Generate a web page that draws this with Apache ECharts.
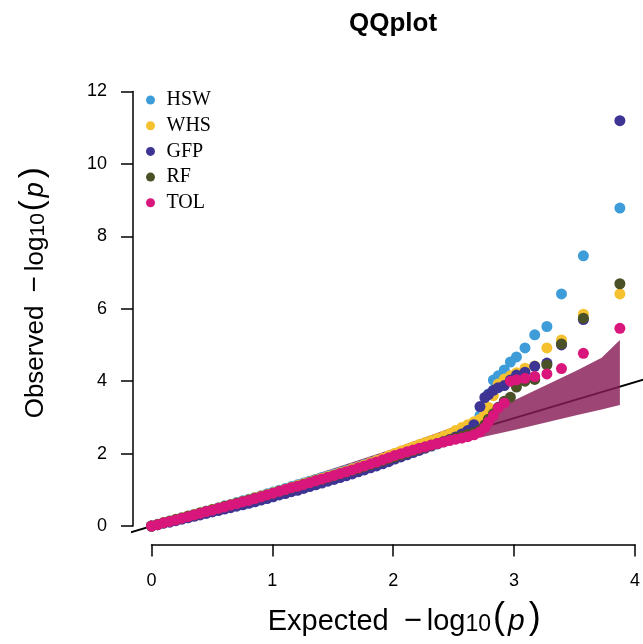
<!DOCTYPE html>
<html><head><meta charset="utf-8">
<script src="https://cdn.jsdelivr.net/npm/echarts@6/dist/echarts.min.js"></script>
<style>html,body{margin:0;padding:0;background:#fff}#c{width:643px;height:644px}</style>
</head><body><div id="c"></div>
<script>
// Expected -log10(p) (shared x for all traits)
const expected = [0.00,0.05,0.10,0.15,0.20,0.25,0.30,0.35,0.40,0.45,0.50,0.55,0.60,0.65,0.70,0.75,0.80,0.85,0.90,0.95,
  1.00,1.05,1.10,1.15,1.20,1.25,1.30,1.35,1.40,1.45,1.50,1.55,1.60,1.65,1.70,1.75,1.80,1.85,1.90,1.95,
  2.00,2.05,2.10,2.15,2.20,2.25,2.30,2.35,2.40,2.45,2.50,2.55,2.60,2.65,
  2.70,2.74,2.77,2.81,2.85,2.90,2.95,3.00,3.07,3.15,3.25,3.37,3.55,3.85];
// Observed -log10(p) per trait
const hsw = [0.00,0.05,0.10,0.15,0.19,0.24,0.28,0.33,0.37,0.42,0.46,0.51,0.56,0.60,0.65,0.70,0.74,0.79,0.84,0.89,
  0.94,0.99,1.04,1.09,1.14,1.19,1.24,1.29,1.34,1.39,1.44,1.49,1.54,1.59,1.64,1.70,1.75,1.81,1.86,1.92,
  1.98,2.04,2.10,2.15,2.20,2.25,2.30,2.35,2.40,2.45,2.51,2.58,2.68,2.85,
  3.05,3.31,3.65,4.03,4.15,4.31,4.53,4.67,4.92,5.28,5.51,6.41,7.46,8.78];
const whs = [0.00,0.05,0.10,0.14,0.19,0.23,0.28,0.32,0.37,0.41,0.46,0.50,0.55,0.59,0.64,0.68,0.73,0.78,0.83,0.87,
  0.92,0.97,1.02,1.07,1.12,1.17,1.22,1.27,1.32,1.37,1.42,1.47,1.52,1.58,1.63,1.69,1.75,1.81,1.87,1.94,
  2.01,2.07,2.13,2.19,2.25,2.31,2.36,2.42,2.48,2.55,2.64,2.72,2.80,2.88,
  2.95,3.10,3.28,3.60,3.92,4.06,4.15,4.23,4.36,4.42,4.92,5.14,5.85,6.41];
const gfp = [0.00,0.04,0.08,0.11,0.15,0.19,0.23,0.27,0.31,0.35,0.39,0.43,0.47,0.51,0.55,0.59,0.63,0.67,0.72,0.76,
  0.81,0.86,0.90,0.95,0.99,1.04,1.09,1.14,1.19,1.24,1.29,1.34,1.39,1.44,1.50,1.55,1.61,1.66,1.72,1.78,
  1.85,1.91,1.97,2.03,2.09,2.15,2.21,2.27,2.33,2.39,2.46,2.54,2.64,2.80,
  3.30,3.55,3.63,3.75,3.82,3.88,4.03,4.17,4.25,4.41,4.50,5.00,5.70,11.19];
const rf = [0.00,0.04,0.09,0.13,0.18,0.22,0.27,0.31,0.36,0.40,0.45,0.49,0.54,0.58,0.63,0.67,0.72,0.77,0.81,0.86,
  0.91,0.96,1.00,1.05,1.10,1.15,1.20,1.25,1.29,1.34,1.39,1.44,1.49,1.54,1.59,1.64,1.70,1.75,1.80,1.86,
  1.91,1.97,2.02,2.08,2.13,2.18,2.23,2.28,2.33,2.38,2.43,2.48,2.53,2.58,
  2.65,2.80,2.95,3.10,3.28,3.45,3.56,3.84,4.00,4.05,4.45,5.03,5.74,6.69];
const tol = [0.00,0.04,0.09,0.13,0.17,0.22,0.26,0.31,0.35,0.40,0.44,0.49,0.53,0.58,0.62,0.67,0.71,0.76,0.81,0.86,
  0.91,0.96,1.01,1.06,1.10,1.15,1.20,1.25,1.30,1.35,1.40,1.45,1.50,1.55,1.61,1.66,1.72,1.77,1.83,1.89,
  1.95,2.00,2.05,2.10,2.15,2.19,2.24,2.28,2.32,2.36,2.40,2.43,2.47,2.52,
  2.60,2.72,2.88,3.05,3.26,3.40,4.00,4.04,4.08,4.13,4.20,4.35,4.77,5.46];
// Confidence band
const bandX     = [0.00,0.50,1.00,1.50,2.00,2.25,2.50,2.75,3.00,3.25,3.50,3.70,3.85];
const bandUpper = [0.01,0.53,1.06,1.60,2.15,2.45,2.76,3.12,3.50,3.90,4.30,4.65,5.14];
const bandLower = [0.00,0.48,0.95,1.42,1.88,2.10,2.30,2.48,2.67,2.87,3.07,3.22,3.34];
const refLine = [-0.5, 4.5];
const traitNames = ['HSW','WHS','GFP','RF','TOL'];
const traitValues = [hsw, whs, gfp, rf, tol];
const traitColors = ['#3e9dd9','#f5c12e','#3d3494','#4a5127','#d8167b'];

const chart = echarts.init(document.getElementById('c'), null, {renderer:'canvas'});
const sans = 'Liberation Sans, Arial, sans-serif';
const richName = (size, padLeft, gap) => ({
  n:{fontSize:size,fontFamily:sans,color:'#000',lineHeight:size+8,verticalAlign:'bottom'},
  a:{fontSize:size,fontFamily:sans,color:'#000',lineHeight:size+8,verticalAlign:'bottom',padding:[0,0,0,padLeft]},
  m:{fontSize:size+2,fontFamily:sans,color:'#000',lineHeight:size+8,verticalAlign:'bottom',padding:[0,5,0,gap]},
  s:{fontSize:Math.round(size*0.8),fontFamily:sans,color:'#000',lineHeight:Math.round(size*0.6),verticalAlign:'bottom'},
  p:{fontSize:size+7,fontFamily:sans,color:'#000',lineHeight:size+8,verticalAlign:'bottom',padding:[0,2,0,2]},
  i:{fontSize:size+1,fontFamily:sans,fontStyle:'italic',color:'#000',lineHeight:size+8,verticalAlign:'bottom',padding:[0,2,0,1]}
});

const series = [];
series.push({type:'line', xAxisIndex:0, yAxisIndex:0, data: refLine.map(v=>[v,v]), symbol:'none',
  lineStyle:{color:'#000',width:2}, z:2, silent:true, clip:true});
series.push({type:'custom', xAxisIndex:0, yAxisIndex:0, data:[[0,0]], z:3, silent:true,
  renderItem:(params, api) => {
    const pts = [];
    for (let i=0;i<bandX.length;i++) pts.push(api.coord([bandX[i], bandUpper[i]]));
    for (let i=bandX.length-1;i>=0;i--) pts.push(api.coord([bandX[i], bandLower[i]]));
    return {type:'polygon', shape:{points:pts}, style:{fill:'rgba(135,28,85,0.82)'}};
  }});
traitNames.forEach((name, k) => {
  series.push({type:'scatter', name, xAxisIndex:0, yAxisIndex:0, symbolSize:11, z:4,
    data: expected.map((x,i)=>[x, traitValues[k][i]]),
    itemStyle:{color:traitColors[k], opacity:1}});
});

chart.setOption({
  animation:false,
  backgroundColor:'#fff',
  title:{text:'QQplot', left:344, top:6, textStyle:{fontSize:26, fontWeight:'bold', fontFamily:sans, color:'#000'}},
  legend:{orient:'vertical', left:141, top:85, itemWidth:22, itemHeight:9, itemGap:5.7, icon:'circle',
    data:traitNames, textStyle:{fontSize:20, fontFamily:'Liberation Serif, Times New Roman, serif', color:'#000', lineHeight:20}},
  grid:[
    {left:132, top:74, right:0, height:469.5, containLabel:false},
    {left:151.5, top:91.5, width:486.5, height:434.5, containLabel:false}
  ],
  xAxis:[
    {gridIndex:0, type:'value', min:-0.16, max:4.04, show:false},
    {gridIndex:1, type:'value', min:0, max:4, interval:1, position:'bottom', offset:18.5,
      axisLine:{show:true, onZero:false, lineStyle:{color:'#000', width:1.5}},
      axisTick:{show:true, length:12, lineStyle:{color:'#000', width:1.5}},
      axisLabel:{fontSize:18, fontFamily:sans, color:'#000', margin:28},
      splitLine:{show:false},
      name:'{a|Expected}{m|−}{n|log}{s|10}{p|(}{i|p}{p|)}', nameLocation:'middle', nameGap:55,
      nameTextStyle:{rich:richName(29, 24, 15)}}
  ],
  yAxis:[
    {gridIndex:0, type:'value', min:-0.48, max:12.48, show:false},
    {gridIndex:1, type:'value', min:0, max:12, interval:2, position:'left', offset:18.5,
      axisLine:{show:true, onZero:false, lineStyle:{color:'#000', width:1.5}},
      axisTick:{show:true, length:12, lineStyle:{color:'#000', width:1.5}},
      axisLabel:{fontSize:18, fontFamily:sans, color:'#000', margin:26},
      splitLine:{show:false},
      name:'{a|Observed}{m|−}{n|log}{s|10}{p|(}{i|p}{p|)}', nameLocation:'middle', nameGap:84,
      nameTextStyle:{rich:richName(26, 34, 13)}}
  ],
  series
});
</script></body></html>
